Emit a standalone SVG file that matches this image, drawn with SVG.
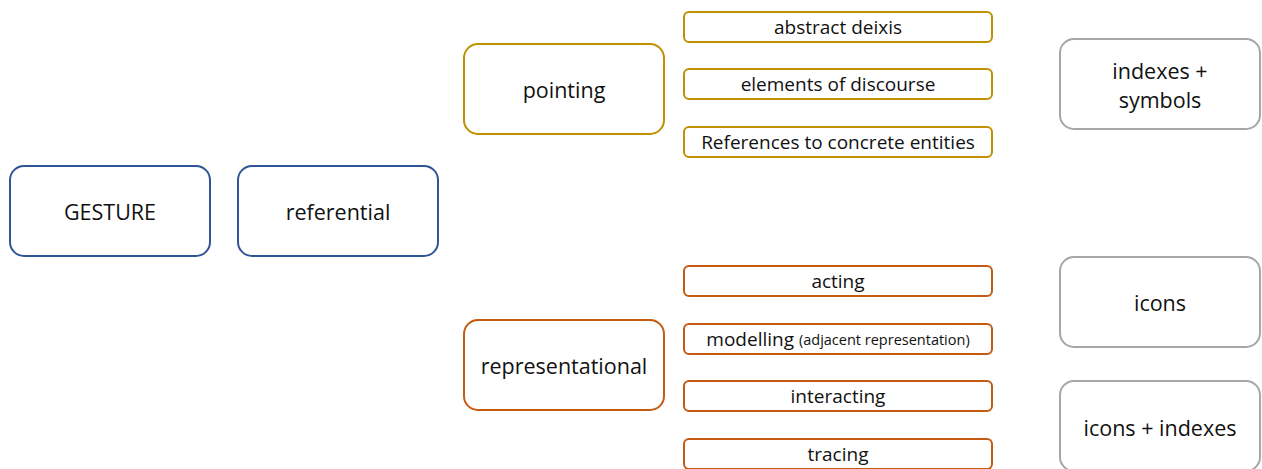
<svg xmlns="http://www.w3.org/2000/svg" width="1262" height="469" viewBox="0 0 1262 469">
  <style>
    text { font-family: "Open Sans", "Noto Sans", sans-serif; fill: #111; text-anchor: middle; dominant-baseline: central; }
    .big { font-size: 21.5px; }
    .small { font-size: 19px; }
    .note { font-size: 14.5px; }
    rect { fill: #fff; stroke-width: 2; }
    .blue { stroke: #2F5597; }
    .gold { stroke: #BF9000; }
    .orange { stroke: #C55A11; }
    .gray { stroke: #A6A6A6; }
  </style>
  <rect x="0" y="0" width="1262" height="469" style="stroke:none"/>

  <g id="gesture"><rect class="blue" x="10" y="166" width="200" height="90" rx="14"/><text class="big" x="110" y="211">GESTURE</text></g>
  <g id="referential"><rect class="blue" x="238" y="166" width="200" height="90" rx="14"/><text class="big" x="338" y="211">referential</text></g>

  <g id="pointing"><rect class="gold" x="464" y="44" width="200" height="90" rx="14"/><text class="big" x="564" y="89">pointing</text></g>
  <g id="abstract-deixis"><rect class="gold" x="684" y="12" width="308" height="30" rx="5"/><text class="small" x="838" y="27">abstract deixis</text></g>
  <g id="elements-of-discourse"><rect class="gold" x="684" y="69" width="308" height="30" rx="5"/><text class="small" x="838" y="84">elements of discourse</text></g>
  <g id="concrete-entities"><rect class="gold" x="684" y="127" width="308" height="30" rx="5"/><text class="small" x="838" y="142">References to concrete entities</text></g>

  <g id="representational"><rect class="orange" x="464" y="320" width="200" height="90" rx="14"/><text class="big" x="564" y="365">representational</text></g>
  <g id="acting"><rect class="orange" x="684" y="266" width="308" height="30" rx="5"/><text class="small" x="838" y="281">acting</text></g>
  <g id="modelling"><rect class="orange" x="684" y="324" width="308" height="30" rx="5"/><text class="small" x="838" y="339">modelling <tspan class="note">(adjacent representation)</tspan></text></g>
  <g id="interacting"><rect class="orange" x="684" y="381" width="308" height="30" rx="5"/><text class="small" x="838" y="396">interacting</text></g>
  <g id="tracing"><rect class="orange" x="684" y="439" width="308" height="30" rx="5"/><text class="small" x="838" y="454">tracing</text></g>

  <g id="indexes-symbols"><rect class="gray" x="1060" y="39" width="200" height="90" rx="14"/><text class="big" x="1160" y="70">indexes +</text><text class="big" x="1160" y="99">symbols</text></g>
  <g id="icons"><rect class="gray" x="1060" y="257" width="200" height="90" rx="14"/><text class="big" x="1160" y="302">icons</text></g>
  <g id="icons-indexes"><rect class="gray" x="1060" y="381" width="200" height="90" rx="14"/><text class="big" x="1160" y="427">icons + indexes</text></g>

  <g id="connectors"></g>
</svg>
